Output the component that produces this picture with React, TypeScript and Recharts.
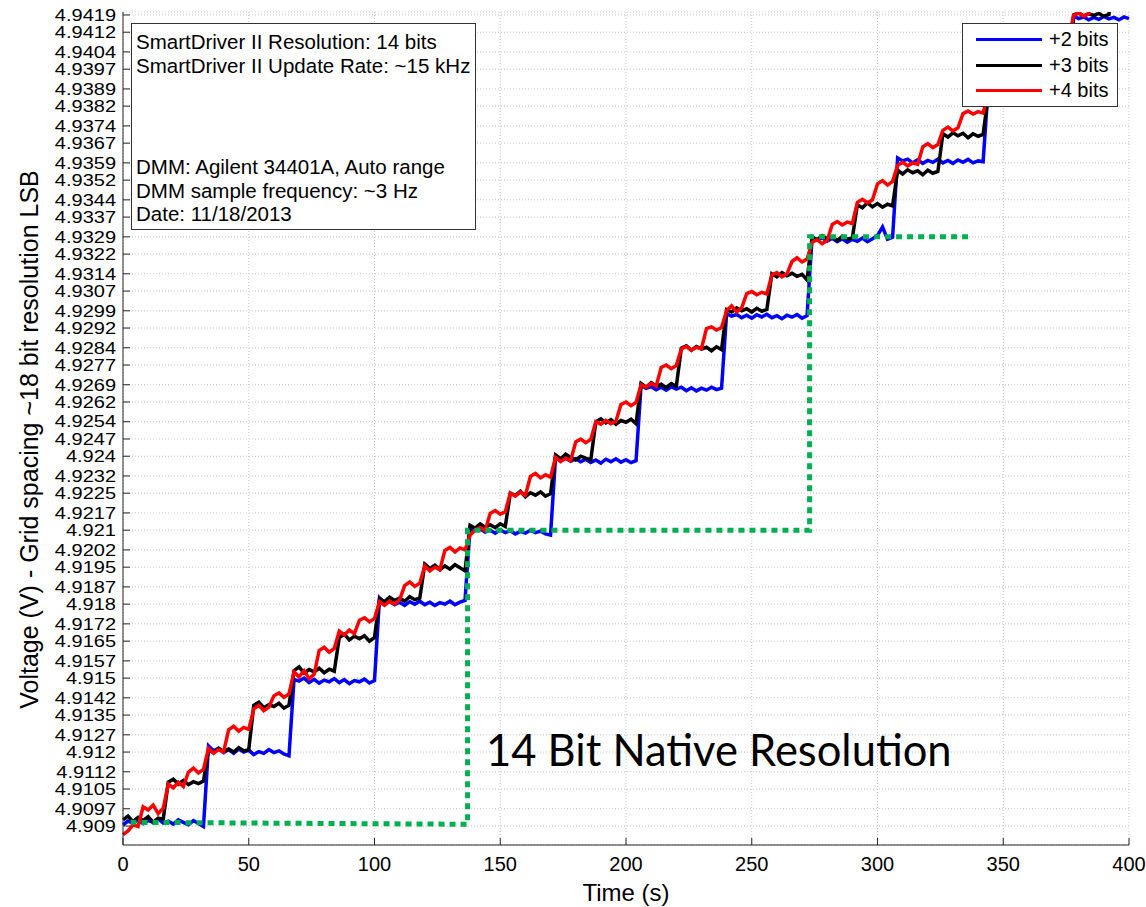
import { CartesianGrid, Legend, Line, LineChart, XAxis, YAxis } from "recharts";

// DMM readings, one every 2 s
const TIME_S = [
  0, 2, 4, 6, 8, 10, 12, 14, 16, 18,
  20, 22, 24, 26, 28, 30, 32, 34, 36, 38,
  40, 42, 44, 46, 48, 50, 52, 54, 56, 58,
  60, 62, 64, 66, 68, 70, 72, 74, 76, 78,
  80, 82, 84, 86, 88, 90, 92, 94, 96, 98,
  100, 102, 104, 106, 108, 110, 112, 114, 116, 118,
  120, 122, 124, 126, 128, 130, 132, 134, 136, 138,
  140, 142, 144, 146, 148, 150, 152, 154, 156, 158,
  160, 162, 164, 166, 168, 170, 172, 174, 176, 178,
  180, 182, 184, 186, 188, 190, 192, 194, 196, 198,
  200, 202, 204, 206, 208, 210, 212, 214, 216, 218,
  220, 222, 224, 226, 228, 230, 232, 234, 236, 238,
  240, 242, 244, 246, 248, 250, 252, 254, 256, 258,
  260, 262, 264, 266, 268, 270, 272, 274, 276, 278,
  280, 282, 284, 286, 288, 290, 292, 294, 296, 298,
  300, 302, 304, 306, 308, 310, 312, 314, 316, 318,
  320, 322, 324, 326, 328, 330, 332, 334, 336, 338,
  340, 342, 344, 346, 348, 350, 352, 354, 356, 358,
  360, 362, 364, 366, 368, 370, 372, 374, 376, 378,
  380, 382, 384, 386, 388, 390, 392, 394, 396, 398,
  400,
];

// +2 bits
const BLUE_V = [
  4.90905, 4.9092, 4.90912, 4.90925, 4.9091, 4.90922, 4.90915, 4.90928, 4.90912, 4.9092,
  4.90908, 4.90925, 4.90915, 4.90905, 4.90922, 4.9091, 4.90898, 4.91225, 4.91205, 4.91215,
  4.91198, 4.9121, 4.91195, 4.91212, 4.912, 4.91208, 4.9119, 4.91202, 4.91195, 4.9121,
  4.91198, 4.91205, 4.91192, 4.91185, 4.91495, 4.91488, 4.915, 4.91482, 4.91495, 4.9148,
  4.91492, 4.91485, 4.91498, 4.91482, 4.91494, 4.91478, 4.9149, 4.91485, 4.91496, 4.9148,
  4.9149, 4.91825, 4.91805, 4.91812, 4.91798, 4.91808, 4.91795, 4.9181, 4.918, 4.91812,
  4.91798, 4.91808, 4.91795, 4.91806, 4.918, 4.91812, 4.91798, 4.91808, 4.91815, 4.9211,
  4.92098, 4.92105, 4.92092, 4.921, 4.92088, 4.92102, 4.9209, 4.92098, 4.92085, 4.92095,
  4.92088, 4.921, 4.9209, 4.92096, 4.92085, 4.9208, 4.92398, 4.92385, 4.92392, 4.9238,
  4.9239, 4.92378, 4.92388, 4.92375, 4.92385, 4.92372, 4.92388, 4.92378, 4.9239, 4.92376,
  4.92386, 4.92374, 4.92382, 4.92688, 4.92675, 4.92682, 4.9267, 4.9268, 4.92668, 4.92682,
  4.92672, 4.9268, 4.92666, 4.92678, 4.92665, 4.92676, 4.92668, 4.9268, 4.9267, 4.92676,
  4.92978, 4.92968, 4.92975, 4.92962, 4.92972, 4.9296, 4.92974, 4.92965, 4.92976, 4.92962,
  4.9297, 4.92958, 4.92972, 4.92964, 4.92975, 4.9296, 4.9297, 4.9329, 4.93278, 4.93286,
  4.93272, 4.93284, 4.9327, 4.93282, 4.93268, 4.9328, 4.93272, 4.93285, 4.9327, 4.93282,
  4.93295, 4.9333, 4.9328, 4.93288, 4.9361, 4.93598, 4.93605, 4.9359, 4.93602, 4.93588,
  4.936, 4.93592, 4.93605, 4.9359, 4.936, 4.93588, 4.93602, 4.93592, 4.93604, 4.9359,
  4.93598, 4.93595, 4.93895, 4.93885, 4.93892, 4.9388, 4.9389, 4.93882, 4.93894, 4.93884,
  4.9389, 4.9388, 4.93892, 4.93884, 4.9389, 4.93882, 4.93893, 4.93885, 4.9389, 4.94185,
  4.94175, 4.94182, 4.9417, 4.9418, 4.94172, 4.94184, 4.94174, 4.9418, 4.9417, 4.94182,
  4.94175,
];

// +3 bits
const BLACK_V = [
  4.90925, 4.9094, 4.90918, 4.90935, 4.90922, 4.90938, 4.90915, 4.90932, 4.90928, 4.91078,
  4.9109, 4.9107, 4.91085, 4.91068, 4.9108, 4.91072, 4.91082, 4.9121, 4.91198, 4.91215,
  4.91202, 4.91212, 4.912, 4.91218, 4.91205, 4.9121, 4.9139, 4.91402, 4.9138, 4.91392,
  4.91385, 4.91398, 4.91378, 4.9139, 4.9153, 4.91545, 4.9152, 4.91535, 4.91525, 4.9154,
  4.91522, 4.91536, 4.91528, 4.91665, 4.91678, 4.91655, 4.9167, 4.9166, 4.91672, 4.9165,
  4.91665, 4.91822, 4.9181, 4.91828, 4.91815, 4.91825, 4.91812, 4.9183, 4.91818, 4.91824,
  4.91962, 4.91945, 4.91958, 4.9194, 4.91955, 4.91942, 4.9196, 4.91948, 4.91935, 4.9212,
  4.92108, 4.92125, 4.92112, 4.92122, 4.9211, 4.92126, 4.92115, 4.9225, 4.9224, 4.92258,
  4.92235, 4.92252, 4.92242, 4.92255, 4.92238, 4.92248, 4.92405, 4.9239, 4.92408, 4.92395,
  4.92385, 4.924, 4.92392, 4.92385, 4.9254, 4.92552, 4.92535, 4.92548, 4.9253, 4.92545,
  4.92538, 4.9255, 4.92532, 4.92695, 4.9268, 4.92698, 4.92685, 4.92692, 4.92678, 4.92695,
  4.92684, 4.92838, 4.92848, 4.9283, 4.92845, 4.92835, 4.92842, 4.92828, 4.92844, 4.92832,
  4.92995, 4.92985, 4.93002, 4.9299, 4.92998, 4.92985, 4.93, 4.92988, 4.92995, 4.9314,
  4.93128, 4.93145, 4.93132, 4.93142, 4.9313, 4.93138, 4.93115, 4.93288, 4.93278, 4.93295,
  4.93282, 4.9329, 4.93275, 4.93292, 4.9328, 4.93286, 4.9342, 4.93408, 4.93428, 4.93412,
  4.93425, 4.9341, 4.93422, 4.93415, 4.9356, 4.93545, 4.93562, 4.9355, 4.93558, 4.93542,
  4.9356, 4.93548, 4.93555, 4.93708, 4.93695, 4.93712, 4.937, 4.9371, 4.93692, 4.93708,
  4.93698, 4.93705, 4.93862, 4.9387, 4.93855, 4.93866, 4.9386, 4.93868, 4.93856, 4.93864,
  4.94012, 4.9402, 4.94005, 4.94015, 4.9401, 4.94018, 4.94006, 4.94014, 4.9401, 4.9419,
  4.94198, 4.94186, 4.94195, 4.94188, 4.94196, 4.94185, 4.94192, 4.94326, 4.94334, 4.9432,
  4.9433,
];

// +4 bits
const RED_V = [
  4.90865, 4.9088, 4.90905, 4.90898, 4.90978, 4.90965, 4.90985, 4.9095, 4.90972, 4.9107,
  4.91055, 4.91078, 4.9106, 4.91118, 4.91135, 4.91115, 4.9113, 4.91215, 4.91195, 4.9121,
  4.912, 4.9129, 4.91305, 4.91285, 4.913, 4.91292, 4.91375, 4.9139, 4.91368, 4.91382,
  4.91428, 4.9144, 4.91422, 4.91436, 4.91525, 4.91505, 4.9153, 4.91498, 4.91515, 4.91612,
  4.91625, 4.91605, 4.9162, 4.9169, 4.91675, 4.91695, 4.9168, 4.91735, 4.91745, 4.91728,
  4.91742, 4.9181, 4.91795, 4.91812, 4.918, 4.91818, 4.91875, 4.9189, 4.91872, 4.91885,
  4.91955, 4.91935, 4.9195, 4.9194, 4.92018, 4.9203, 4.92012, 4.92028, 4.9202, 4.9208,
  4.921, 4.9211, 4.92098, 4.92168, 4.9218, 4.92165, 4.92175, 4.9225, 4.92238, 4.92255,
  4.92242, 4.92318, 4.9233, 4.92312, 4.92325, 4.92315, 4.92395, 4.92378, 4.92392, 4.92382,
  4.92458, 4.9247, 4.92455, 4.92468, 4.9254, 4.9253, 4.92545, 4.92532, 4.92542, 4.9261,
  4.9262, 4.92605, 4.92618, 4.9269, 4.9268, 4.92695, 4.92685, 4.9276, 4.9277, 4.92755,
  4.92768, 4.92835, 4.92845, 4.9283, 4.92842, 4.92836, 4.92918, 4.92925, 4.92912, 4.92922,
  4.9299, 4.9301, 4.92985, 4.93002, 4.9306, 4.93068, 4.93055, 4.93065, 4.93058, 4.93135,
  4.93145, 4.93128, 4.9314, 4.9319, 4.93205, 4.93188, 4.932, 4.93268, 4.93278, 4.93262,
  4.93275, 4.9334, 4.93352, 4.93338, 4.9335, 4.93344, 4.9343, 4.93442, 4.93428, 4.9344,
  4.93505, 4.93518, 4.935, 4.93515, 4.9358, 4.93592, 4.93578, 4.9359, 4.93584, 4.93655,
  4.93668, 4.93652, 4.93664, 4.93722, 4.93735, 4.9372, 4.93732, 4.9379, 4.938, 4.93788,
  4.93798, 4.93792, 4.93875, 4.93885, 4.9387, 4.9388, 4.9395, 4.93958, 4.93945, 4.93955,
  4.94025, 4.94032, 4.9402, 4.9403, 4.94098, 4.94105, 4.94095, 4.94102, 4.94098, 4.94188,
  4.94198, 4.94185, 4.94195, 4.94265, 4.94272, 4.9426, 4.9427, 4.9434, 4.94348, 4.94335,
  4.94345,
];

// 14 bit native resolution staircase (green dotted)
const NATIVE_T = [3, 137, 137, 273, 273, 336];
const NATIVE_V = [4.90915, 4.90907, 4.921, 4.921, 4.9329, 4.9329];

const X_TICKS = [0, 50, 100, 150, 200, 250, 300, 350, 400];
const Y_TICKS = [
  4.909, 4.9097, 4.9105, 4.9112, 4.912, 4.9127, 4.9135, 4.9142, 4.915, 4.9157,
  4.9165, 4.9172, 4.918, 4.9187, 4.9195, 4.9202, 4.921, 4.9217, 4.9225, 4.9232,
  4.924, 4.9247, 4.9254, 4.9262, 4.9269, 4.9277, 4.9284, 4.9292, 4.9299, 4.9307,
  4.9314, 4.9322, 4.9329, 4.9337, 4.9344, 4.9352, 4.9359, 4.9367, 4.9374, 4.9382,
  4.9389, 4.9397, 4.9404, 4.9412, 4.9419,
];

const FONT = '"Liberation Sans", Arial, Helvetica, sans-serif';
const AXIS_COLOR = "#262626";

const chartData = TIME_S.map((t, i) => ({ t, blue: BLUE_V[i], black: BLACK_V[i], red: RED_V[i] }));
const nativeData = NATIVE_T.map((t, i) => ({ t, native: NATIVE_V[i] }));

// MATLAB-style tick labels are drawn a bit wide, so stretch them horizontally
const VoltTick = (props: any) => (
  <g transform={`translate(${props.x},${props.y})`}>
    <text transform="scale(1.25,1)" textAnchor="end" dy="0.36em" fontSize={16} fontFamily={FONT} fill="#000">
      {props.payload.value}
    </text>
  </g>
);

const YAxisTitle = (props: any) => {
  const vb = props.viewBox;
  const x = vb.x + 38;
  const y = vb.y + vb.height / 2 + 11;
  return (
    <text x={x} y={y} transform={`rotate(-90, ${x}, ${y})`} textAnchor="middle" fontSize={25} fontFamily={FONT} fill="#000">
      Voltage (V) - Grid spacing ~18 bit resolution LSB
    </text>
  );
};

const LegendBox = (props: any) => (
  <div
    style={{
      width: 156,
      height: 84,
      border: "1px solid #333",
      background: "#fff",
      boxSizing: "border-box",
      paddingTop: 3,
      fontFamily: FONT,
      fontSize: 20,
      color: "#000",
    }}
  >
    {(props.payload || [])
      .filter((p: any) => p.type !== "none")
      .map((p: any) => (
        <div key={p.value} style={{ display: "flex", alignItems: "center", height: 25.5 }}>
          <div style={{ width: 66, height: 3, background: p.color, marginLeft: 13, marginRight: 7 }} />
          <span>{p.value}</span>
        </div>
      ))}
  </div>
);

const App = () => {
  return (
    <div style={{ position: "absolute", left: 0, top: 0, width: 1146, height: 907, background: "#fff" }}>
      <LineChart width={1146} height={907} data={chartData} margin={{ top: 12, right: 17, bottom: 0, left: 0 }}>
        <CartesianGrid stroke="#c8c8c8" strokeDasharray="1 2" />
        <XAxis
          dataKey="t"
          type="number"
          domain={[0, 400]}
          ticks={X_TICKS}
          interval={0}
          height={62}
          tickSize={-7}
          tickMargin={19}
          stroke={AXIS_COLOR}
          tick={{ fontSize: 20, fill: "#000", fontFamily: FONT }}
          label={{ value: "Time (s)", position: "insideBottom", offset: 6, fontSize: 24, fill: "#000", fontFamily: FONT }}
        />
        <XAxis
          xAxisId="top"
          dataKey="t"
          type="number"
          orientation="top"
          domain={[0, 400]}
          ticks={X_TICKS}
          interval={0}
          height={0}
          tickSize={-7}
          tick={false}
          stroke={AXIS_COLOR}
        />
        <YAxis
          type="number"
          domain={[4.90823, 4.94202]}
          ticks={Y_TICKS}
          interval={0}
          allowDataOverflow
          width={123}
          tickSize={-7}
          tickMargin={14}
          stroke={AXIS_COLOR}
          tick={(p: any) => <VoltTick {...p} />}
          label={(p: any) => <YAxisTitle {...p} />}
        />
        <YAxis
          yAxisId="right"
          type="number"
          orientation="right"
          domain={[4.90823, 4.94202]}
          ticks={Y_TICKS}
          interval={0}
          allowDataOverflow
          width={0}
          tickSize={-7}
          tick={false}
          stroke={AXIS_COLOR}
        />
        <Legend
          layout="horizontal"
          verticalAlign="middle"
          align="center"
          wrapperStyle={{ left: 962, top: 23, width: 156, height: 84 }}
          content={(p: any) => <LegendBox {...p} />}
        />
        <Line type="linear" dataKey="blue" name="+2 bits" stroke="#0000ff" strokeWidth={3.5} dot={false} isAnimationActive={false} />
        <Line type="linear" dataKey="black" name="+3 bits" stroke="#000000" strokeWidth={3.5} dot={false} isAnimationActive={false} />
        <Line type="linear" dataKey="red" name="+4 bits" stroke="#ff0000" strokeWidth={3.5} dot={false} isAnimationActive={false} />
        <Line
          data={nativeData}
          type="linear"
          dataKey="native"
          name="14 Bit Native Resolution"
          legendType="none"
          stroke="#00b050"
          strokeWidth={5}
          strokeDasharray="6 5"
          dot={false}
          isAnimationActive={false}
        />
      </LineChart>

      <div
        style={{
          position: "absolute",
          left: 131,
          top: 23,
          width: 345,
          height: 207,
          boxSizing: "border-box",
          border: "1px solid #333",
          background: "#fff",
          fontFamily: FONT,
          fontSize: 20.5,
          lineHeight: "23.5px",
          color: "#000",
          paddingLeft: 4,
          paddingTop: 6,
          whiteSpace: "nowrap",
        }}
      >
        <div>SmartDriver II Resolution: 14 bits</div>
        <div>SmartDriver II Update Rate: ~15 kHz</div>
        <div style={{ marginTop: 78 }}>DMM: Agilent 34401A, Auto range</div>
        <div>DMM sample frequency: ~3 Hz</div>
        <div>Date: 11/18/2013</div>
      </div>

      <div
        style={{
          position: "absolute",
          left: 486,
          top: 723,
          fontFamily: "Lato, 'Open Sans', sans-serif",
          fontSize: 43.5,
          color: "#000",
          whiteSpace: "nowrap",
        }}
      >
        14 Bit Native Resolution
      </div>
    </div>
  );
};

export default App;
